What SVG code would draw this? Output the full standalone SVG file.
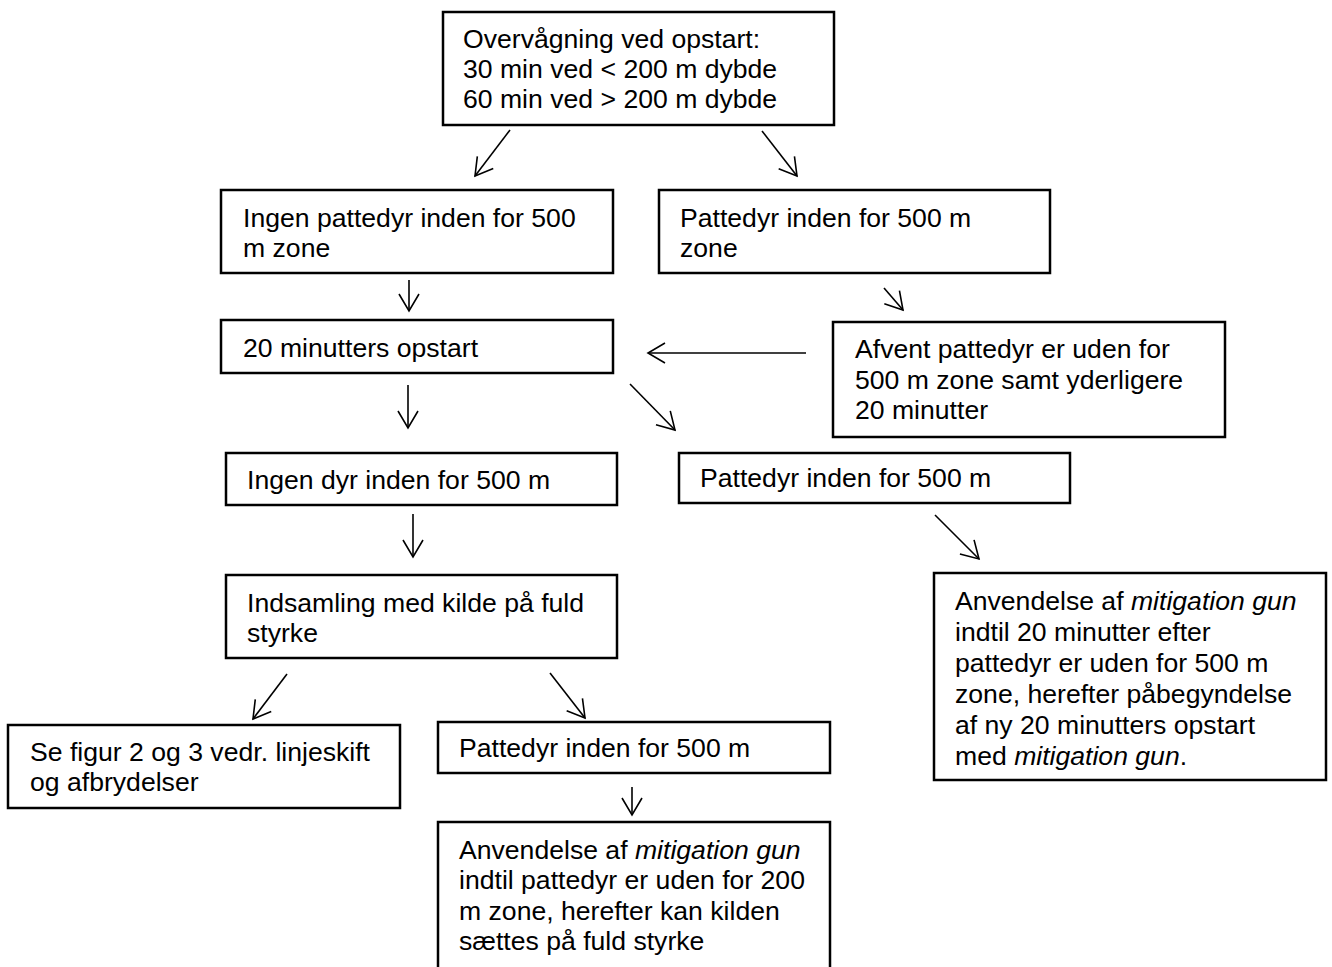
<svg xmlns="http://www.w3.org/2000/svg" width="1332" height="967" viewBox="0 0 1332 967">
<style>
.box{fill:#fff;stroke:#000;stroke-width:2.5}
.t{font-family:"Liberation Sans",Arial,sans-serif;font-size:26.6px;fill:#000}
.i{font-style:italic}
.c{stroke:#000;stroke-width:1.6;fill:none;marker-end:url(#ah)}
</style>
<defs>
<marker id="ah" viewBox="0 0 20 22" refX="18" refY="11" markerWidth="20" markerHeight="22" markerUnits="userSpaceOnUse" orient="auto">
<path d="M1,1 L18,11 L1,21" fill="none" stroke="#000" stroke-width="1.6"/>
</marker>
</defs>
<rect width="1332" height="967" fill="#fff"/>
<g id="n1"><rect class="box" x="443" y="12" width="391" height="113"/>
<text class="t" x="463" y="48">Overvågning ved opstart:</text>
<text class="t" x="463" y="78">30 min ved &lt; 200 m dybde</text>
<text class="t" x="463" y="108">60 min ved &gt; 200 m dybde</text></g>
<g id="n2"><rect class="box" x="221" y="190" width="392" height="83"/>
<text class="t" x="243" y="227">Ingen pattedyr inden for 500</text>
<text class="t" x="243" y="257">m zone</text></g>
<g id="n3"><rect class="box" x="659" y="190" width="391" height="83"/>
<text class="t" x="680" y="227">Pattedyr inden for 500 m</text>
<text class="t" x="680" y="257">zone</text></g>
<g id="n4"><rect class="box" x="221" y="320" width="392" height="53"/>
<text class="t" x="243" y="357">20 minutters opstart</text></g>
<g id="n5"><rect class="box" x="833" y="322" width="392" height="115"/>
<text class="t" x="855" y="358">Afvent pattedyr er uden for</text>
<text class="t" x="855" y="389">500 m zone samt yderligere</text>
<text class="t" x="855" y="419">20 minutter</text></g>
<g id="n6"><rect class="box" x="226" y="453" width="391" height="52"/>
<text class="t" x="247" y="489">Ingen dyr inden for 500 m</text></g>
<g id="n7"><rect class="box" x="679" y="453" width="391" height="50"/>
<text class="t" x="700" y="487">Pattedyr inden for 500 m</text></g>
<g id="n8"><rect class="box" x="226" y="575" width="391" height="83"/>
<text class="t" x="247" y="612">Indsamling med kilde på fuld</text>
<text class="t" x="247" y="642">styrke</text></g>
<g id="n9"><rect class="box" x="8" y="725" width="392" height="83"/>
<text class="t" x="30" y="761">Se figur 2 og 3 vedr. linjeskift</text>
<text class="t" x="30" y="791">og afbrydelser</text></g>
<g id="n10"><rect class="box" x="438" y="722" width="392" height="51"/>
<text class="t" x="459" y="757">Pattedyr inden for 500 m</text></g>
<g id="n11"><rect class="box" x="438" y="822" width="392" height="160"/>
<text class="t" x="459" y="859">Anvendelse af <tspan class="i">mitigation gun</tspan></text>
<text class="t" x="459" y="889">indtil pattedyr er uden for 200</text>
<text class="t" x="459" y="920">m zone, herefter kan kilden</text>
<text class="t" x="459" y="950">sættes på fuld styrke</text></g>
<g id="n12"><rect class="box" x="934" y="573" width="392" height="207"/>
<text class="t" x="955" y="610">Anvendelse af <tspan class="i">mitigation gun</tspan></text>
<text class="t" x="955" y="641">indtil 20 minutter efter</text>
<text class="t" x="955" y="672">pattedyr er uden for 500 m</text>
<text class="t" x="955" y="703">zone, herefter påbegyndelse</text>
<text class="t" x="955" y="734">af ny 20 minutters opstart</text>
<text class="t" x="955" y="765">med <tspan class="i">mitigation gun</tspan>.</text></g>
<g id="connectors">
<line class="c" x1="510" y1="130" x2="475" y2="176"/>
<line class="c" x1="762" y1="131" x2="797" y2="176"/>
<line class="c" x1="409" y1="280" x2="409" y2="311"/>
<line class="c" x1="884" y1="288" x2="903" y2="310"/>
<line class="c" x1="806" y1="353" x2="648" y2="353"/>
<line class="c" x1="408" y1="385" x2="408" y2="428"/>
<line class="c" x1="630" y1="384" x2="675" y2="430"/>
<line class="c" x1="413" y1="514" x2="413" y2="557"/>
<line class="c" x1="935" y1="515" x2="979" y2="559"/>
<line class="c" x1="287" y1="674" x2="253" y2="719"/>
<line class="c" x1="550" y1="673" x2="585" y2="718"/>
<line class="c" x1="632" y1="787" x2="632" y2="815"/>
</g>
</svg>
